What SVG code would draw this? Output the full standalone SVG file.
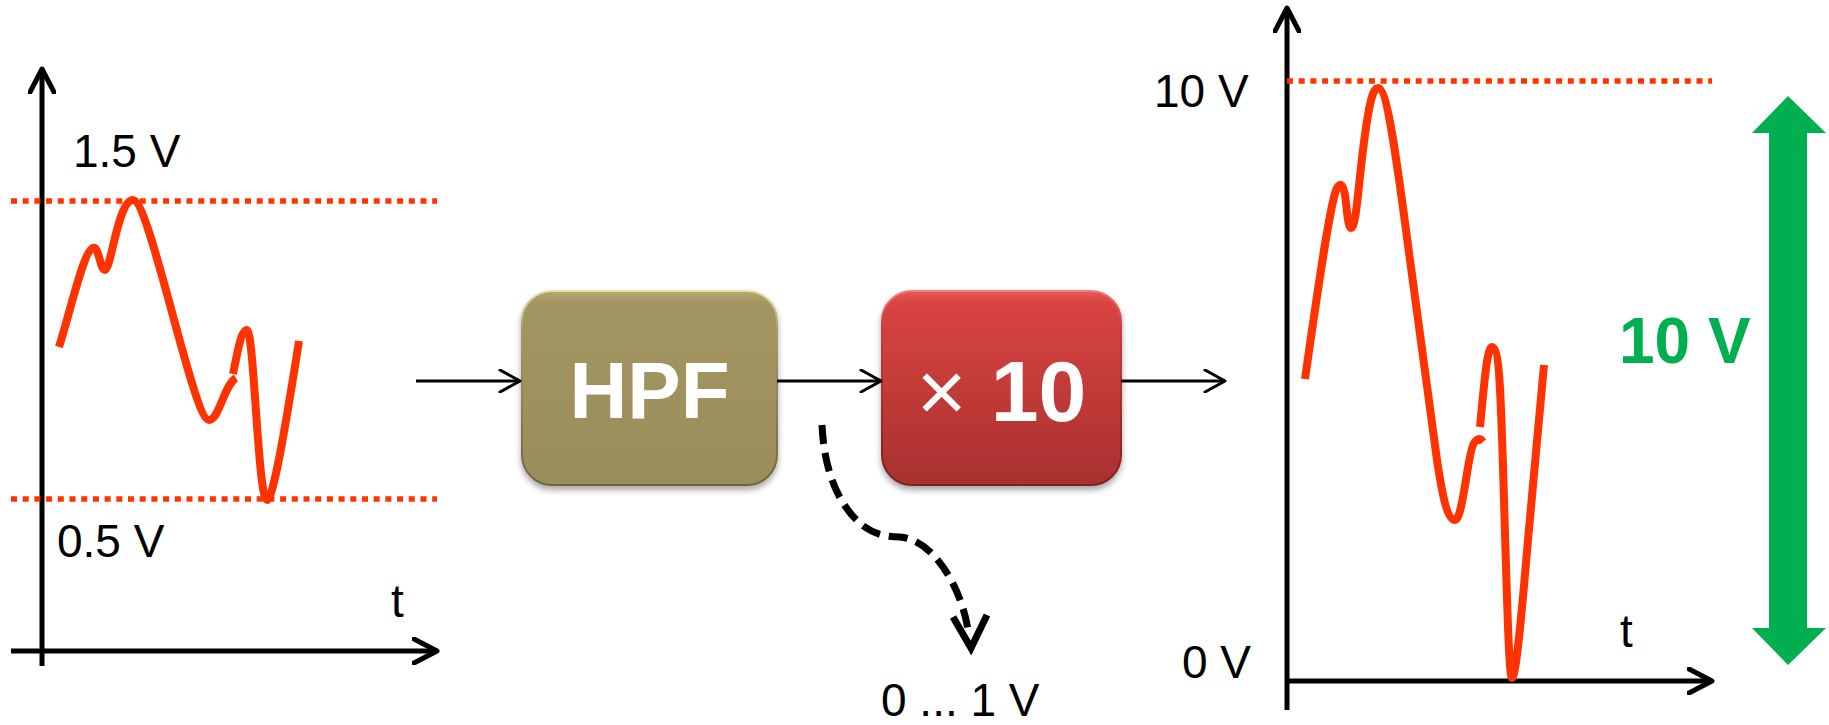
<svg xmlns="http://www.w3.org/2000/svg" width="1829" height="725" viewBox="0 0 1829 725">
  <style>
    .lbl { font-family: "Liberation Sans", Arial, sans-serif; font-size: 46px; fill: #000; }
    .boxtxt { font-family: "Liberation Sans", Arial, sans-serif; font-weight: bold; fill: #fff; text-anchor: middle; }
    .axis { stroke: #000; stroke-width: 5; fill: none; marker-end: url(#axisHead); }
    .level { stroke: #FF3300; stroke-width: 5.5; stroke-dasharray: 6 5.7; fill: none; }
    .signal { stroke: #FF3300; stroke-width: 8; fill: none; stroke-linejoin: round; }
    .flow { stroke: #000; stroke-width: 3; fill: none; marker-end: url(#flowHead); }
  </style>
  <defs>
    <marker id="axisHead" viewBox="0 0 28 28" refX="25" refY="14" markerWidth="28" markerHeight="28" markerUnits="userSpaceOnUse" orient="auto">
      <path d="M2,2 L25,14 L2,26" fill="none" stroke="#000" stroke-width="5" stroke-linecap="round" stroke-linejoin="round"/>
    </marker>
    <marker id="flowHead" viewBox="0 0 24 24" refX="22" refY="12" markerWidth="24" markerHeight="24" markerUnits="userSpaceOnUse" orient="auto">
      <path d="M2,1 L22,12 L2,23" fill="none" stroke="#000" stroke-width="3" stroke-linecap="round" stroke-linejoin="round"/>
    </marker>
    <linearGradient id="olive" x1="0" y1="0" x2="0" y2="1">
      <stop offset="0" stop-color="#B4A771"/>
      <stop offset="0.06" stop-color="#A29562"/>
      <stop offset="1" stop-color="#9B8E5A"/>
    </linearGradient>
    <linearGradient id="oliveEdge" x1="0" y1="0" x2="0" y2="1">
      <stop offset="0" stop-color="#E9E1A8"/>
      <stop offset="0.2" stop-color="#A89B66"/>
      <stop offset="1" stop-color="#6F6540"/>
    </linearGradient>
    <linearGradient id="crimson" x1="0" y1="0" x2="0" y2="1">
      <stop offset="0" stop-color="#E85A57"/>
      <stop offset="0.06" stop-color="#D94442"/>
      <stop offset="1" stop-color="#A8302E"/>
    </linearGradient>
    <linearGradient id="crimsonEdge" x1="0" y1="0" x2="0" y2="1">
      <stop offset="0" stop-color="#F27D7A"/>
      <stop offset="0.2" stop-color="#C83C3A"/>
      <stop offset="1" stop-color="#7A2120"/>
    </linearGradient>
    <filter id="shadow" x="-10%" y="-10%" width="120%" height="125%">
      <feGaussianBlur in="SourceAlpha" stdDeviation="3"/>
      <feOffset dy="4" result="off"/>
      <feComponentTransfer><feFuncA type="linear" slope="0.35"/></feComponentTransfer>
      <feMerge><feMergeNode/><feMergeNode in="SourceGraphic"/></feMerge>
    </filter>
  </defs>

  <!-- input signal plot -->
  <g id="input-plot">
    <line class="axis" x1="42" y1="666" x2="42" y2="69"/>
    <line class="axis" x1="11" y1="651" x2="437" y2="651"/>
    <line class="level" x1="11" y1="201" x2="437" y2="201"/>
    <line class="level" x1="11" y1="499" x2="437" y2="499"/>
    <path class="signal" d="M59,347 C72,305 84,250 93,248 C99,246 100,270 105,270 C111,270 118,200 133,200 C150,200 193,420 209,420 C219,420 224,385 236,378"/>
    <path class="signal" d="M233,374 C238,350 241,330 247,330 C254,330 258,500 267,500 C273,500 285,430 299,341"/>
    <text class="lbl" x="73" y="167">1.5 V</text>
    <text class="lbl" x="57" y="557">0.5 V</text>
    <text class="lbl" x="391" y="617">t</text>
  </g>

  <!-- high-pass filter block -->
  <g id="hpf" filter="url(#shadow)">
    <rect x="522" y="291" width="255" height="194" rx="30" fill="url(#olive)" stroke="url(#oliveEdge)" stroke-width="2"/>
    <text class="boxtxt" x="649.5" y="418" font-size="80">HPF</text>
  </g>

  <!-- amplifier block -->
  <g id="amp" filter="url(#shadow)">
    <rect x="882" y="291" width="239" height="194" rx="30" fill="url(#crimson)" stroke="url(#crimsonEdge)" stroke-width="2"/>
    <text class="boxtxt" x="1001.5" y="421" font-size="86"><tspan font-weight="normal">×</tspan> 10</text>
  </g>

  <!-- output signal plot -->
  <g id="output-plot">
    <line class="axis" x1="1287" y1="710" x2="1287" y2="8"/>
    <line class="axis" x1="1287" y1="681" x2="1712" y2="681"/>
    <line class="level" x1="1287" y1="81" x2="1712" y2="81"/>
    <path class="signal" d="M1305,379 C1315,310 1330,200 1337,188 C1341,182 1343,185 1345,195 C1347,210 1348,228 1351,228 C1356,228 1358,190 1363,150 C1368,110 1372,88 1378,88 C1388,88 1398,170 1410,260 L1437,460 C1443,500 1448,520 1455,520 C1463,520 1468,450 1474,443 C1477,438 1480,438 1483,442"/>
    <path class="signal" d="M1480,427 C1484,385 1487,347 1492,347 C1500,347 1501,400 1504,500 C1507,600 1509,678 1512,678 C1516,678 1522,610 1528,540 L1544,365"/>
    <text class="lbl" x="1154" y="107">10 V</text>
    <text class="lbl" x="1182" y="678">0 V</text>
    <text class="lbl" x="1620" y="647">t</text>
  </g>

  <!-- output swing indicator -->
  <g id="swing">
    <path d="M1788,96 L1826,133 L1807,133 L1807,628 L1826,628 L1788,665 L1752,628 L1769,628 L1769,133 L1752,133 Z" fill="#00B050"/>
    <text x="1619" y="363" font-family="Liberation Sans, Arial, sans-serif" font-weight="bold" font-size="64" fill="#00B050">10 V</text>
  </g>

  <!-- DC offset tap label -->
  <g id="offset-label">
    <text class="lbl" x="881" y="716">0 ... 1 V</text>
  </g>

  <!-- connectors -->
  <g id="connectors">
    <line class="flow" x1="416" y1="381" x2="520" y2="381"/>
    <line class="flow" x1="777" y1="381" x2="881" y2="381"/>
    <line class="flow" x1="1121" y1="381" x2="1225" y2="381"/>
    <path d="M822,425 C824,470 838,505 862,525 C875,535 888,537 900,537 C935,540 962,590 968,630" fill="none" stroke="#000" stroke-width="7" stroke-dasharray="19 9"/>
    <path d="M953,617 L971,648 L987,615" fill="none" stroke="#000" stroke-width="7" stroke-linejoin="miter"/>
  </g>
</svg>
